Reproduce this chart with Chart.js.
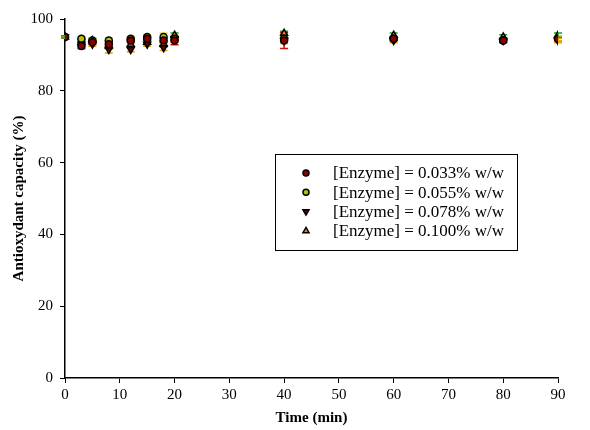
<!DOCTYPE html>
<html lang="en">
<head>
<meta charset="UTF-8">
<title>Antioxydant capacity</title>
<script src="https://cdn.jsdelivr.net/npm/chart.js"></script>
<style>
    body { margin: 0; background: #fff; }
    .wrap { width: 590px; height: 430px; position: relative; }
</style>
</head>
<body>
<div class="wrap"><canvas id="c"></canvas></div>
<script>
    // time points (min)
    const times = [0, 3, 5, 8, 12, 15, 18, 20, 40, 60, 80, 90];
    const seriesNames = ['[Enzyme] = 0.033% w/w', '[Enzyme] = 0.055% w/w', '[Enzyme] = 0.078% w/w', '[Enzyme] = 0.100% w/w'];
    const s033 = [95, 92.5, 93.5, 93, 94, 94.5, 94, 94, 94, 94.5, 94, 94.5];
    const s055 = [95, 94.5, 94, 94, 94.5, 95, 95, 94.5, 94.5, 94.5, 94, 94.5];
    const s078 = [95, 93, 93, 91.5, 91.5, 93, 92, 94.5, 94, 94, 94, 94];
    const s100 = [95, 93.5, 94, 92.5, 93, 93.5, 93, 95.5, 96, 95.5, 95, 95.5];
    const e033 = [0.3, 0.8, 0.6, 0.8, 0.6, 0.6, 0.6, 1.2, 2.2, 0.6, 0.6, 0.6];
    const e055 = [0.3, 0.6, 0.6, 0.8, 0.6, 0.6, 1.0, 0.6, 0.6, 0.6, 0.6, 0.6];
    const e078 = [0.3, 0.8, 0.6, 1.0, 0.6, 0.6, 0.8, 1.0, 0.8, 0.6, 0.6, 0.6];
    const e100 = [0.3, 0.8, 0.6, 0.8, 0.8, 0.6, 0.8, 0.6, 0.6, 0.6, 0.6, 0.6];
    const yTicks = [0, 20, 40, 60, 80, 100];

    const mk = (vals) => times.map((t, i) => ({ x: t, y: vals[i] }));
    const serif = '"Liberation Serif", "Times New Roman", serif';

    const datasets = [
        { label: seriesNames[0], data: mk(s033), err: e033, errColor: '#c81010', pointStyle: 'circle', backgroundColor: '#8b0000', radius: 3.5 },
        { label: seriesNames[1], data: mk(s055), err: e055, errColor: '#e0d000', pointStyle: 'circle', backgroundColor: '#b8c000', radius: 3.5 },
        { label: seriesNames[2], data: mk(s078), err: e078, errColor: '#f0a000', pointStyle: 'triangle', rotation: 180, backgroundColor: '#6a0000', radius: 4 },
        { label: seriesNames[3], data: mk(s100), err: e100, errColor: '#20a020', pointStyle: 'triangle', backgroundColor: '#ff8000', radius: 4 }
    ].map(d => Object.assign({
        showLine: false,
        borderColor: '#000',
        borderWidth: 1.5,
        pointRadius: d.radius,
        pointRotation: d.rotation || 0
    }, d));

    // error bars drawn through the scales
    const errorBars = {
        id: 'errorBars',
        beforeDatasetsDraw(chart) {
            const ctx = chart.ctx;
            const xs = chart.scales.x, ys = chart.scales.y;
            chart.data.datasets.forEach(ds => {
                ctx.save();
                ctx.strokeStyle = ds.errColor;
                ctx.lineWidth = 1.5;
                ds.data.forEach((p, i) => {
                    const px = xs.getPixelForValue(p.x);
                    const top = ys.getPixelForValue(p.y + ds.err[i]);
                    const bot = ys.getPixelForValue(p.y - ds.err[i]);
                    ctx.beginPath();
                    ctx.moveTo(px, top); ctx.lineTo(px, bot);
                    ctx.moveTo(px - 4, top); ctx.lineTo(px + 4, top);
                    ctx.moveTo(px - 4, bot); ctx.lineTo(px + 4, bot);
                    ctx.stroke();
                });
                ctx.restore();
            });
        }
    };

    // boxed legend inside the plot
    const boxLegend = {
        id: 'boxLegend',
        afterDraw(chart) {
            const ctx = chart.ctx;
            const x0 = 275, y0 = 154, w = 242, h = 96;
            ctx.save();
            ctx.fillStyle = '#fff';
            ctx.fillRect(x0, y0, w, h);
            ctx.strokeStyle = '#000';
            ctx.lineWidth = 1;
            ctx.strokeRect(x0 + 0.5, y0 + 0.5, w, h);
            ctx.font = '17px ' + serif;
            ctx.textBaseline = 'middle';
            chart.data.datasets.forEach((ds, i) => {
                const cy = y0 + 19 + i * 19.3;
                ctx.fillStyle = ds.backgroundColor;
                ctx.strokeStyle = '#000';
                ctx.lineWidth = 1.5;
                Chart.helpers.drawPoint(ctx, {
                    pointStyle: ds.pointStyle,
                    rotation: ds.pointRotation,
                    radius: ds.pointRadius - 0.5,
                    borderWidth: 1.5
                }, x0 + 31, cy);
                ctx.fillStyle = '#000';
                ctx.fillText(ds.label, x0 + 58, cy + 1);
            });
            ctx.restore();
        }
    };

    new Chart(document.getElementById('c'), {
        type: 'scatter',
        data: { datasets },
        options: {
            responsive: true,
            maintainAspectRatio: false,
            animation: false,
            layout: { padding: { top: 19, right: 32, left: 0, bottom: 0 } },
            plugins: { legend: { display: false }, tooltip: { enabled: false } },
            scales: {
                x: {
                    type: 'linear', min: 0, max: 90,
                    afterFit: (s) => { s.height = 52; },
                    ticks: { stepSize: 10, color: '#000', font: { family: serif, size: 15 }, padding: 3, maxRotation: 0 },
                    grid: { drawOnChartArea: false, color: '#000', tickLength: 5 },
                    border: { color: '#000', width: 1.5 },
                    title: { display: true, text: 'Time (min)', color: '#000', font: { family: serif, size: 15, weight: 'bold' }, padding: { top: 0, bottom: 3 } }
                },
                y: {
                    min: 0, max: 100,
                    afterFit: (s) => { s.width = 65; },
                    afterBuildTicks: (s) => { s.ticks = yTicks.map(v => ({ value: v })); },
                    ticks: { color: '#000', font: { family: serif, size: 15 }, padding: 7 },
                    grid: { drawOnChartArea: false, color: '#000', tickLength: 5 },
                    border: { color: '#000', width: 1.5 },
                    title: { display: true, text: 'Antioxydant capacity (%)', color: '#000', font: { family: serif, size: 15, weight: 'bold' }, padding: { top: 10, bottom: 0 } }
                }
            }
        },
        plugins: [errorBars, boxLegend]
    });
</script>
</body>
</html>
